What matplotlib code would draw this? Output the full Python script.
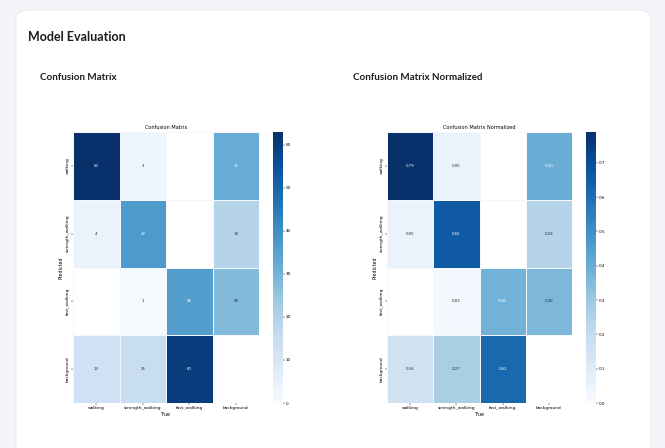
import numpy as np
import matplotlib
matplotlib.use("Agg")
import matplotlib.pyplot as plt
from matplotlib.patches import FancyBboxPatch
import seaborn as sns

# class names (x = True, y = Predicted)
classes = ["walking", "strength_walking", "fast_walking", "background"]

# raw counts, rows = predicted, columns = true
counts = np.array([
    [63, 3, np.nan, 32],
    [4, 37, np.nan, 19],
    [np.nan, 1, 36, 28],
    [13, 15, 60, np.nan],
])

# column-normalized values
normalized = np.array([
    [0.79, 0.05, np.nan, 0.40],
    [0.05, 0.66, np.nan, 0.24],
    [np.nan, 0.02, 0.38, 0.36],
    [0.16, 0.27, 0.62, np.nan],
])

W, H = 665, 448
fig = plt.figure(figsize=(W / 100, H / 100), dpi=100)
fig.patch.set_facecolor("#f3f5f9")

# white card behind the charts
card = FancyBboxPatch((16 / W, -0.2), 635 / W, 1.2 - 10 / H,
                      boxstyle="round,pad=0,rounding_size=0.02",
                      transform=fig.transFigure, facecolor="white",
                      edgecolor="#e6e9ef", linewidth=0.6, zorder=-10)
fig.add_artist(card)

head_font = ["Lato", "DejaVu Sans"]
fig.text(28 / W, 1 - 37 / H, "Model Evaluation", fontsize=9, fontweight="bold",
         family=head_font, color="#1d1d1f", va="center", ha="left")
fig.text(40 / W, 1 - 78 / H, "Confusion Matrix", fontsize=7.1, fontweight="bold",
         family=head_font, color="#1d1d1f", va="center", ha="left")
fig.text(353 / W, 1 - 78 / H, "Confusion Matrix Normalized", fontsize=7.1,
         fontweight="bold", family=head_font, color="#1d1d1f", va="center", ha="left")


def draw_matrix(data, title, fmt, ax_box, cbar_box, cticks):
    ax = fig.add_axes(ax_box)
    cax = fig.add_axes(cbar_box)
    sns.heatmap(data, ax=ax, cbar_ax=cax, cmap="Blues", vmin=0.0,
                annot=True, fmt=fmt, annot_kws={"size": 2.8},
                xticklabels=classes, yticklabels=classes,
                linewidths=0.6, linecolor="#f4f8fc")
    ax.set_facecolor("white")
    ax.set_title(title, fontsize=3.6, pad=2)
    ax.set_xlabel("True", fontsize=3.4, labelpad=1.5)
    ax.set_ylabel("Predicted", fontsize=3.4, labelpad=1.5)
    ax.tick_params(axis="both", labelsize=3.2, length=1.2, width=0.3, pad=1)
    plt.setp(ax.get_yticklabels(), rotation=90, va="center")
    plt.setp(ax.get_xticklabels(), rotation=0)
    cax.set_yticks(cticks)
    cax.tick_params(labelsize=3.0, length=1.2, width=0.3, pad=1)
    return ax


draw_matrix(counts, "Confusion Matrix", ".0f",
            [73 / W, 1 - 403 / H, 186 / W, 271 / H],
            [273 / W, 1 - 403 / H, 9.5 / W, 271 / H],
            [0, 10, 20, 30, 40, 50, 60])

draw_matrix(normalized, "Confusion Matrix Normalized", ".2f",
            [387 / W, 1 - 403 / H, 185 / W, 271 / H],
            [586 / W, 1 - 403 / H, 9.5 / W, 271 / H],
            [0.0, 0.1, 0.2, 0.3, 0.4, 0.5, 0.6, 0.7])

fig.savefig("out.png", dpi=100, facecolor=fig.get_facecolor())
